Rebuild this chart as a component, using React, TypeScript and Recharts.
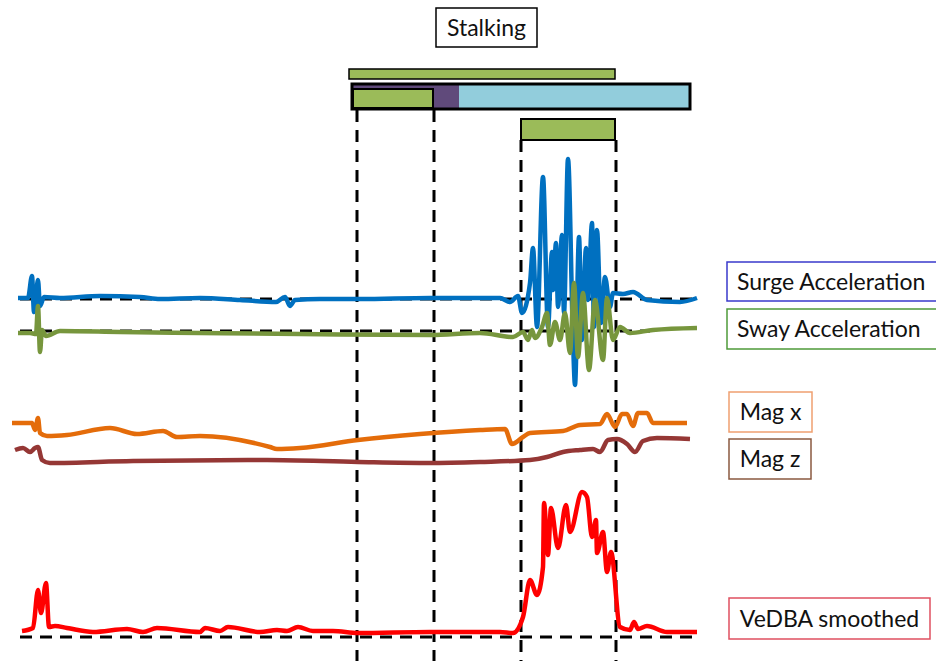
import React from "react";
import {
  LineChart,
  Line,
  XAxis,
  YAxis,
  ReferenceArea,
  ReferenceLine,
} from "recharts";

// traces, in picture units (x across, y down)
const surge: [number, number][] = [
  [18, 298], [28, 298], [32, 276], [34, 312], [36, 296], [38, 280], [40, 306], [44, 297],
  [60, 298], [100, 296], [140, 297], [160, 299], [200, 298], [240, 300], [276, 302],
  [285, 297], [290, 306], [295, 300], [320, 299], [360, 299], [430, 298], [500, 298],
  [510, 302], [518, 296], [522, 313], [530, 283], [533, 248], [537, 327], [543, 177],
  [548, 327], [552, 252], [553, 290], [556, 243], [558, 307], [562, 235], [564, 313],
  [568, 159], [573, 340], [575, 385], [579, 237], [582, 340], [586, 248], [588, 300],
  [592, 223], [594, 327], [597, 230], [601, 323], [605, 277], [610, 307], [613, 293],
  [623, 294], [633, 292], [647, 300], [680, 302], [697, 298],
];

const sway: [number, number][] = [
  [18, 333], [30, 333], [36, 334], [38, 306], [40, 352], [42, 330], [46, 336], [60, 331],
  [120, 332], [200, 333], [300, 334], [430, 335], [480, 333], [513, 337], [523, 332],
  [528, 340], [532, 330], [535, 338], [542, 327], [547, 313], [550, 345], [555, 322],
  [560, 340], [565, 313], [570, 353], [574, 283], [578, 357], [583, 293], [589, 370],
  [595, 300], [603, 360], [607, 298], [613, 340], [620, 327], [630, 333], [653, 330],
  [697, 328],
];

const magX: [number, number][] = [
  [12, 423], [32, 423], [35, 430], [38, 418], [40, 433], [47, 436], [67, 435], [110, 428],
  [137, 434], [163, 431], [177, 437], [200, 436], [270, 447], [277, 449], [300, 448],
  [358, 440], [420, 434], [480, 430], [505, 429], [512, 444], [523, 437], [530, 433],
  [563, 431], [580, 425], [600, 424], [607, 414], [615, 427], [622, 414], [627, 414],
  [633, 426], [638, 413], [647, 413], [653, 423], [687, 423],
];

const magZ: [number, number][] = [
  [15, 450], [23, 448], [30, 452], [35, 448], [38, 447], [42, 460], [50, 463], [133, 461],
  [267, 460], [358, 462], [430, 463], [480, 462], [530, 460], [547, 457], [563, 452],
  [580, 450], [593, 449], [600, 452], [608, 440], [617, 439], [627, 444], [635, 452],
  [643, 441], [657, 438], [690, 439],
];

const vedba: [number, number][] = [
  [22, 631], [33, 628], [38, 590], [41, 613], [46, 583], [49, 627], [55, 626], [67, 628],
  [93, 632], [127, 629], [143, 632], [157, 628], [200, 632], [205, 628], [220, 631],
  [228, 627], [260, 632], [277, 630], [287, 631], [298, 627], [313, 631], [333, 631],
  [358, 633], [430, 632], [500, 632], [513, 633], [523, 617], [530, 580], [537, 595],
  [543, 567], [544, 503], [548, 555], [551, 508], [558, 548], [566, 505], [570, 532],
  [582, 492], [587, 497], [592, 537], [596, 520], [597, 553], [603, 532], [607, 572],
  [611, 552], [620, 627], [630, 630], [634, 622], [638, 629], [647, 626], [667, 632],
  [697, 632],
];

// event boundaries and baselines
const boundaries = [357, 434, 521, 616];
const baselines: { y: number; from: number; to: number }[] = [
  { y: 299, from: 20, to: 700 },
  { y: 331, from: 20, to: 650 },
  { y: 637, from: 20, to: 700 },
];

const legendItems = [
  { label: "Surge Acceleration", x1: 727, x2: 950, y1: 262, y2: 301, border: "#3a3acc", center: false },
  { label: "Sway Acceleration", x1: 727, x2: 950, y1: 309, y2: 349, border: "#4f9a3a", center: false },
  { label: "Mag x", x1: 729, x2: 812, y1: 392, y2: 432, border: "#f0a070", center: true },
  { label: "Mag z", x1: 729, x2: 811, y1: 439, y2: 479, border: "#8a5a40", center: true },
  { label: "VeDBA smoothed", x1: 729, x2: 930, y1: 598, y2: 639, border: "#e05060", center: true },
];

const pts = (a: [number, number][]) => a.map(([x, y]) => ({ x, y }));

const FONT = "Lato, 'Open Sans', sans-serif";

export default function App() {
  const series = [
    { name: "surge", data: surge, color: "#0070c0" },
    { name: "sway", data: sway, color: "#77963d" },
    { name: "magX", data: magX, color: "#e46c0a" },
    { name: "magZ", data: magZ, color: "#953735" },
    { name: "vedba", data: vedba, color: "#ff0000" },
  ];

  return (
    <div style={{ position: "absolute", left: 0, top: 0, background: "#fff" }}>
      <LineChart width={936} height={661} margin={{ top: 0, right: 0, bottom: 0, left: 0 }}>
        <XAxis type="number" dataKey="x" domain={[0, 936]} hide allowDataOverflow />
        <YAxis type="number" domain={[0, 661]} reversed hide allowDataOverflow />

        {/* Stalking title box */}
        <ReferenceArea
          x1={436} x2={537} y1={8} y2={47}
          fill="#fff" fillOpacity={1} stroke="#000" strokeWidth={1.5}
          label={{ value: "Stalking", position: "center", fill: "#111", fontSize: 23, fontFamily: FONT }}
        />

        {/* behaviour bars */}
        <ReferenceArea x1={349} x2={615} y1={69} y2={79} fill="#9bbb59" fillOpacity={1} stroke="#000" strokeWidth={1.5} />
        <ReferenceArea x1={352} x2={459} y1={84} y2={109} fill="#604a7b" fillOpacity={1} />
        <ReferenceArea x1={353} x2={433} y1={89} y2={108} fill="#9bbb59" fillOpacity={1} stroke="#000" strokeWidth={2} />
        <ReferenceArea x1={459} x2={689} y1={85} y2={108} fill="#92cddc" fillOpacity={1} />
        <ReferenceArea x1={352} x2={690} y1={84} y2={109} fill="none" stroke="#000" strokeWidth={3} />
        <ReferenceArea x1={521} x2={615} y1={119} y2={140} fill="#9bbb59" fillOpacity={1} stroke="#000" strokeWidth={2} />

        {boundaries.map((x, i) => (
          <ReferenceLine
            key={"v" + i}
            segment={[{ x, y: i < 2 ? 110 : 140 }, { x, y: 661 }]}
            stroke="#000" strokeWidth={3} strokeDasharray="12 8"
          />
        ))}
        {baselines.map((b, i) => (
          <ReferenceLine
            key={"h" + i}
            segment={[{ x: b.from, y: b.y }, { x: b.to, y: b.y }]}
            stroke="#000" strokeWidth={3} strokeDasharray="12 8"
          />
        ))}

        {series.map((s) => (
          <Line
            key={s.name}
            data={pts(s.data)}
            dataKey="y"
            type="monotone"
            stroke={s.color}
            strokeWidth={4.5}
            dot={false}
            activeDot={false}
            isAnimationActive={false}
          />
        ))}

        {legendItems.map((l) => (
          <ReferenceArea
            key={l.label}
            x1={l.x1} x2={l.x2} y1={l.y1} y2={l.y2}
            ifOverflow="visible"
            fill="#fff" fillOpacity={1} stroke={l.border} strokeWidth={1.5}
            label={{
              value: l.label,
              position: l.center ? "center" : "insideLeft",
              offset: 10,
              fill: "#111",
              fontSize: 23,
              fontFamily: FONT,
            }}
          />
        ))}
      </LineChart>
    </div>
  );
}
